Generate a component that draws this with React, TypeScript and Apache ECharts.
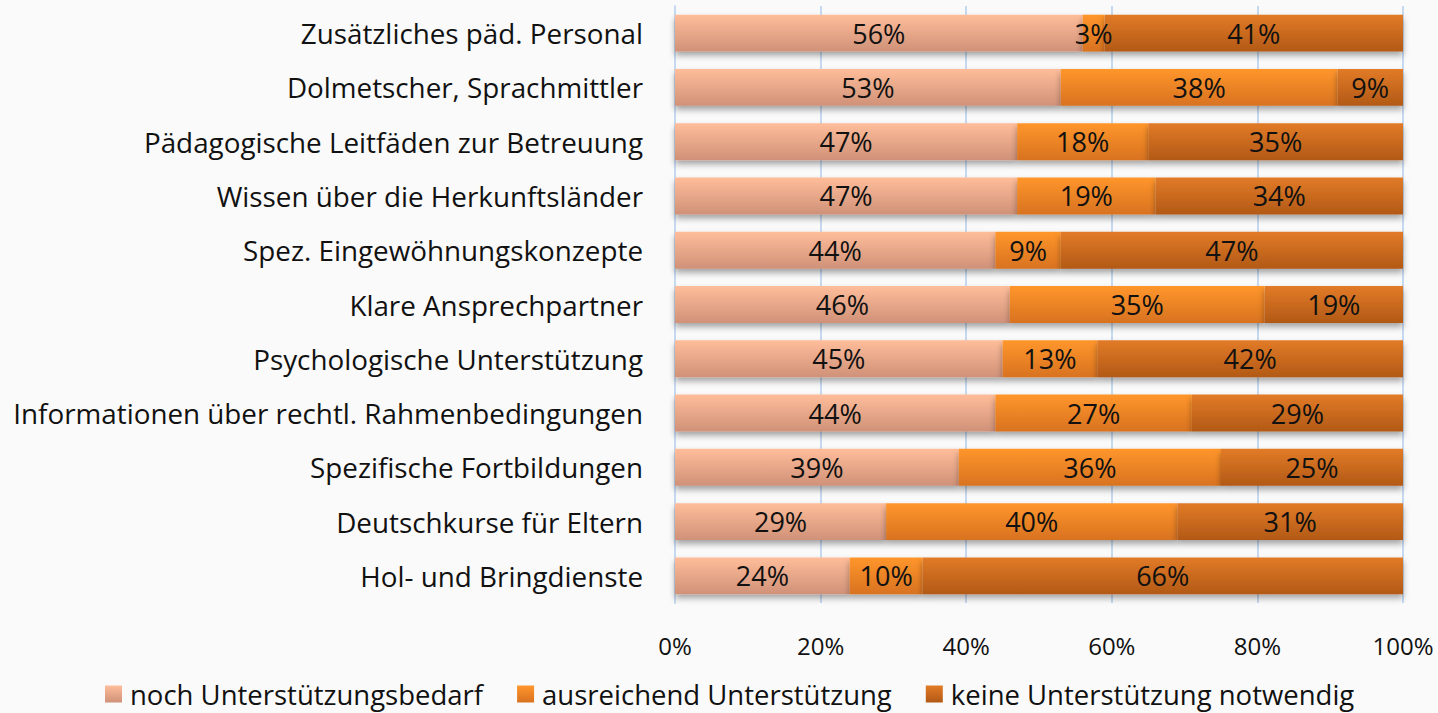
import React, { useEffect, useRef } from "react";
import * as echarts from "echarts";

const categories = [
  "Zusätzliches päd. Personal",
  "Dolmetscher, Sprachmittler",
  "Pädagogische Leitfäden zur Betreuung",
  "Wissen über die Herkunftsländer",
  "Spez. Eingewöhnungskonzepte",
  "Klare Ansprechpartner",
  "Psychologische Unterstützung",
  "Informationen über rechtl. Rahmenbedingungen",
  "Spezifische Fortbildungen",
  "Deutschkurse für Eltern",
  "Hol- und Bringdienste",
];
const seriesNames = [
  "noch Unterstützungsbedarf",
  "ausreichend Unterstützung",
  "keine Unterstützung notwendig",
];
const nochBedarf = [56, 53, 47, 47, 44, 46, 45, 44, 39, 29, 24];
const ausreichend = [3, 38, 18, 19, 9, 35, 13, 27, 36, 40, 10];
const keine = [41, 9, 35, 34, 47, 19, 42, 29, 25, 31, 66];
const xTicks = [0, 20, 40, 60, 80, 100];

const FONT = "Open Sans";

const grad = (top: string, bottom: string) =>
  new echarts.graphic.LinearGradient(0, 0, 0, 1, [
    { offset: 0, color: top },
    { offset: 1, color: bottom },
  ]);

export default function App() {
  const ref = useRef<HTMLDivElement>(null);
  useEffect(() => {
    if (!ref.current) return;
    const chart = echarts.init(ref.current, undefined, { renderer: "svg" });
    const colors = [
      grad("#ffbd9a", "#cf9178"),
      grad("#ff962c", "#d8721f"),
      grad("#e27b27", "#b25916"),
    ];
    const legendColors = [
      grad("#ffbd9a", "#cf9178"),
      grad("#ff962c", "#d8721f"),
      grad("#e27b27", "#b25916"),
    ];
    const datas = [nochBedarf, ausreichend, keine];
    chart.setOption({
      animation: false,
      backgroundColor: "#fafafa",
      grid: { left: 675, right: 35, top: 6, bottom: 110, containLabel: false },
      legend: {
        bottom: 0,
        left: 100,
        itemWidth: 17,
        itemHeight: 17,
        itemGap: 34,
        icon: "rect",
        textStyle: { fontFamily: FONT, fontSize: 27.5, color: "#111", padding: [0, 0, 0, 3] },
        data: seriesNames.map((n, i) => ({ name: n, itemStyle: { color: legendColors[i] } })),
      },
      xAxis: {
        type: "value",
        min: 0,
        max: 100,
        interval: 20,
        axisLine: { show: false },
        axisTick: { show: false },
        splitLine: { show: true, lineStyle: { color: "#c6d9f0", width: 2 } },
        axisLabel: {
          fontFamily: FONT,
          fontSize: 24,
          color: "#111",
          margin: 30,
          formatter: (v: number) => (xTicks.includes(v) ? v + "%" : ""),
        },
      },
      yAxis: {
        type: "category",
        inverse: true,
        data: categories,
        axisLine: { show: true, lineStyle: { color: "#c6d9f0", width: 2 } },
        axisTick: { show: false },
        axisLabel: { fontFamily: FONT, fontSize: 27.8, color: "#111", margin: 32 },
      },
      series: seriesNames.map((name, i) => ({
        name,
        type: "bar",
        stack: "total",
        barWidth: "68%",
        data: datas[i],
        itemStyle: {
          color: colors[i],
          shadowBlur: 6,
          shadowOffsetY: 4,
          shadowColor: "rgba(0,0,0,0.35)",
        },
        label: {
          show: true,
          position: "inside",
          formatter: "{c}%",
          fontFamily: FONT,
          fontSize: 27,
          color: "#111",
        },
      })),
    });
    return () => chart.dispose();
  }, []);
  return (
    <div
      ref={ref}
      style={{ position: "fixed", left: 0, top: 0, width: 1438, height: 713 }}
    />
  );
}
